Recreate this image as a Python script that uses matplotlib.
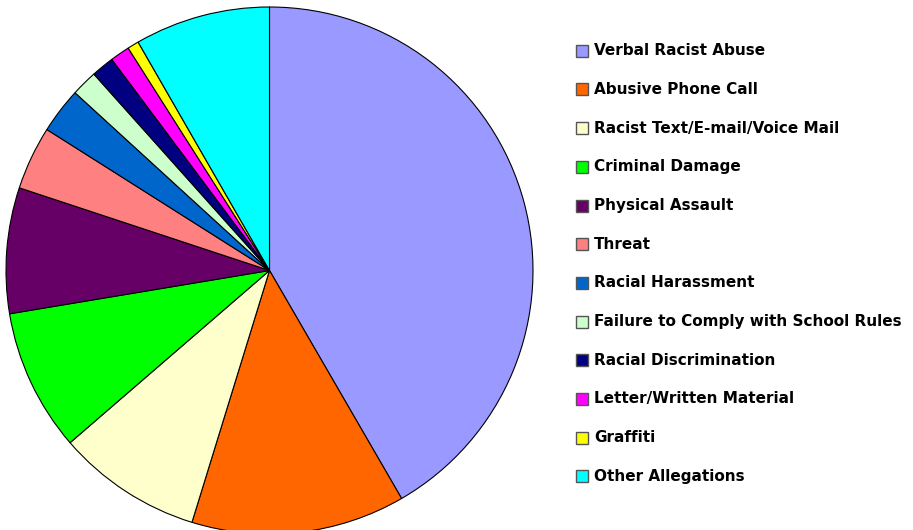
import matplotlib.pyplot as plt
from matplotlib.patches import Rectangle

# categories and share of the pie (percent)
labels = ["Verbal Racist Abuse", "Abusive Phone Call", "Racist Text/E-mail/Voice Mail",
          "Criminal Damage", "Physical Assault", "Threat", "Racial Harassment",
          "Failure to Comply with School Rules", "Racial Discrimination",
          "Letter/Written Material", "Graffiti", "Other Allegations"]
values = [41.6, 13.1, 8.9, 8.7, 7.7, 3.9, 2.8, 1.6, 1.4, 1.2, 0.7, 8.3]
colors = ["#9999FF", "#FF6600", "#FFFFCC", "#00FF00", "#660066", "#FF8080",
          "#0066CC", "#CCFFCC", "#000080", "#FF00FF", "#FFFF00", "#00FFFF"]

W, H = 913, 530
fig = plt.figure(figsize=(W / 100, H / 100), dpi=100)

# pie axes: centre (269.5, 270.5) px, radius 263.5 px
cx, cy, r = 269.5, 270.5, 263.5
ax = fig.add_axes([(cx - r) / W, (H - cy - r) / H, 2 * r / W, 2 * r / H])
ax.pie(values, colors=colors, startangle=90, counterclock=False,
       wedgeprops=dict(edgecolor="black", linewidth=0.8), radius=1)
ax.set_xlim(-1, 1)
ax.set_ylim(-1, 1)
ax.set_aspect("auto")
ax.axis("off")

# legend drawn by hand
y0, dy = 50.7, 38.7
for i, (lab, col) in enumerate(zip(labels, colors)):
    y = y0 + i * dy
    fig.patches.append(Rectangle((576 / W, (H - y - 6) / H), 12 / W, 12 / H,
                                 transform=fig.transFigure, facecolor=col,
                                 edgecolor="#555555", linewidth=1))
    fig.text(594 / W, (H - y) / H, lab, fontsize=11, fontweight="bold",
             family="DejaVu Sans", va="center", ha="left")

fig.savefig("out.png", dpi=100)
